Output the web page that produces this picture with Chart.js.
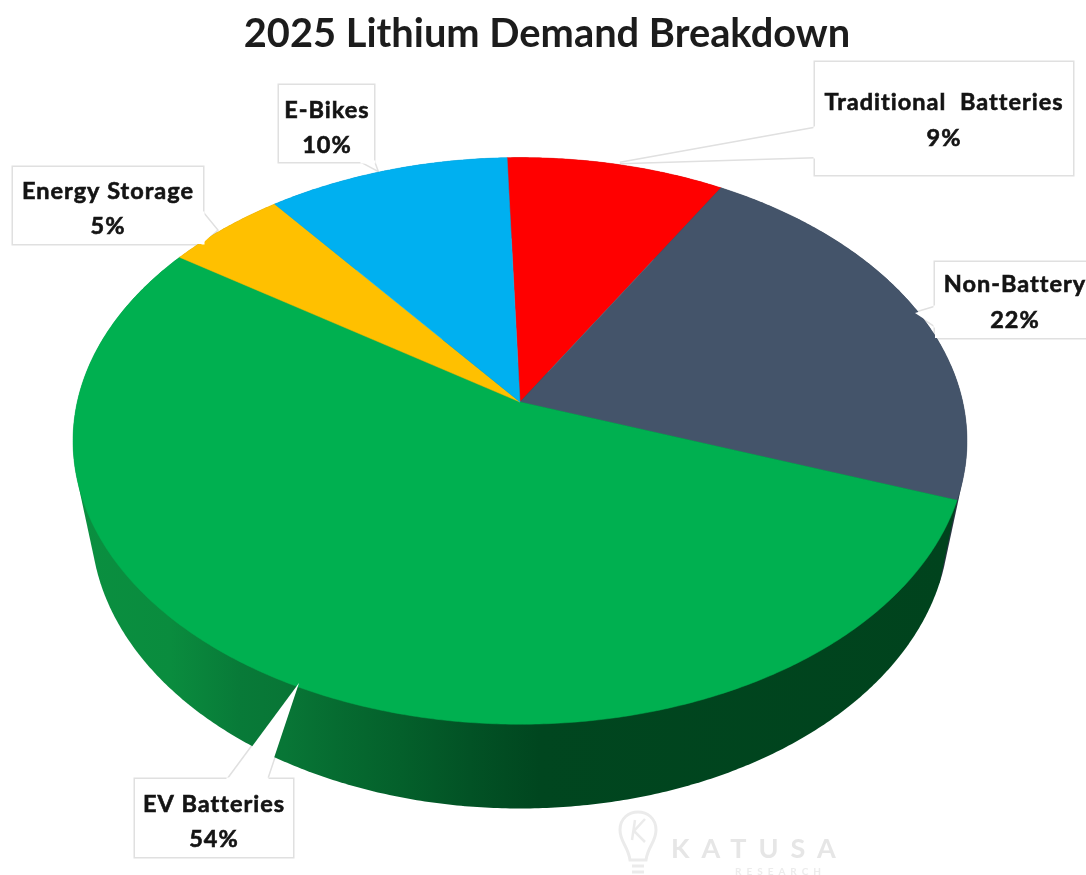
<!DOCTYPE html>
<html><head><meta charset="utf-8">
<script src="https://cdn.jsdelivr.net/npm/chart.js@4/dist/chart.umd.min.js"></script>
<style>
html,body{margin:0;padding:0;background:#fff;overflow:hidden}
#wrap{position:absolute;left:0;top:0;width:1086px;height:875px}
canvas{filter:blur(0.7px)}
</style></head><body>
<div id="wrap"><canvas id="c" width="1086" height="875"></canvas></div>
<script>
const chartTitle = "2025 Lithium Demand Breakdown";
const categories = ["Traditional Batteries","Non-Battery","EV Batteries","Energy Storage","E-Bikes"];
const demandShare = [9,22,54,5,10];
const sliceColors = ["#FF0000","#44546A","#00B050","#FFC000","#00B0F0"];
const sideColors  = ["#8a0000","#2a3442",null,"#a07800","#006f98"];

// callout layout: box, pointer outline, text centre x, first and second text line y
const calloutBoxes = {
  "Traditional Batteries":{box:[815,62,1073,175],ptr:[[815,128],[620,163],[815,157]],tx:944,ty:[102,138]},
  "Non-Battery":{box:[935,262,1100,338],ptr:[[935,307],[915,313],[935,326]],tx:1015,ty:[284,320]},
  "EV Batteries":{box:[135,779,293,857],ptr:[[228,779],[299,683],[267,779]],tx:214,ty:[804,839]},
  "Energy Storage":{box:[13,167,203,244],ptr:[[203,213],[217,230],[203,243]],tx:108,ty:[191,226]},
  "E-Bikes":{box:[279,85,374,162],ptr:[[362,162],[377,170],[374,162]],tx:327,ty:[110,145]}
};

const K = 0.1373;            // foreshortening of the tilted disc
const STRETCH_X = 443.7/278.6;
function project(a, arc, dy, sx, sy){
  const u=Math.cos(a), v=Math.sin(a), d=1-K*v, R=arc.outerRadius;
  return [arc.x + R*STRETCH_X*sx*u/d, arc.y + dy + R*sy*v/d];
}
const TOP=[0,1,1], BOT=[82,0.96,1.007];

function hull(points){
  const p=points.slice().sort((a,b)=>a[0]-b[0]||a[1]-b[1]);
  const cross=(o,a,b)=>(a[0]-o[0])*(b[1]-o[1])-(a[1]-o[1])*(b[0]-o[0]);
  const lo=[],up=[];
  for(const q of p){while(lo.length>1&&cross(lo[lo.length-2],lo[lo.length-1],q)<=0)lo.pop();lo.push(q);}
  for(const q of p.slice().reverse()){while(up.length>1&&cross(up[up.length-2],up[up.length-1],q)<=0)up.pop();up.push(q);}
  return lo.slice(0,-1).concat(up.slice(0,-1));
}
function poly(ctx,pts,close){
  ctx.beginPath();
  pts.forEach((p,k)=>k?ctx.lineTo(p[0],p[1]):ctx.moveTo(p[0],p[1]));
  if(close)ctx.closePath();
}

const pie3d = {
  id:'pie3d',
  beforeDatasetsDraw(chart){
    const ctx=chart.ctx, arcs=chart.getDatasetMeta(0).data;
    ctx.save();
    // callout outlines go under the pie, so they only show on the white page
    ctx.strokeStyle='#e0e0e0';ctx.lineWidth=3;
    categories.forEach(name=>{
      const c=calloutBoxes[name],[x0,y0,x1,y1]=c.box;
      ctx.strokeRect(x0,y0,x1-x0,y1-y0);
      poly(ctx,c.ptr,false);ctx.stroke();
    });
    const g=ctx.createLinearGradient(80,0,950,0);
    const stops=[[80,'#0a8f40'],[170,'#0a8c3e'],[240,'#087a38'],[285,'#087636'],[335,'#066c31'],[400,'#04602b'],[470,'#025225'],[540,'#00461f'],[950,'#00431d']];
    stops.forEach(s=>g.addColorStop((s[0]-80)/870,s[1]));
    arcs.forEach((arc,i)=>{
      const n=Math.max(8,Math.ceil((arc.endAngle-arc.startAngle)*120)),pts=[];
      for(let j=0;j<=n;j++){
        const a=arc.startAngle+(arc.endAngle-arc.startAngle)*j/n;
        pts.push(project(a,arc,...TOP),project(a,arc,...BOT));
      }
      poly(ctx,hull(pts),true);
      ctx.fillStyle=sideColors[i]||g;
      ctx.fill();
    });
    arcs.forEach((arc,i)=>{
      const n=Math.ceil((arc.endAngle-arc.startAngle)*120),pts=[[arc.x,arc.y]];
      for(let j=0;j<=n;j++)pts.push(project(arc.startAngle+(arc.endAngle-arc.startAngle)*j/n,arc,...TOP));
      poly(ctx,pts,true);
      ctx.fillStyle=sliceColors[i];
      ctx.fill();
      ctx.strokeStyle=sliceColors[i];ctx.lineWidth=0.5;ctx.stroke();
    });
    ctx.restore();
    return false;
  },
  afterDraw(chart){
    const ctx=chart.ctx;
    ctx.save();
    // watermark
    ctx.strokeStyle='#ebebeb';ctx.lineWidth=3;
    ctx.beginPath();
    ctx.moveTo(630,860);ctx.bezierCurveTo(628,846,620,842,620,830);
    ctx.bezierCurveTo(620,806,656,806,656,830);
    ctx.bezierCurveTo(656,842,648,846,646,860);ctx.closePath();ctx.stroke();
    ctx.beginPath();ctx.moveTo(632,866);ctx.lineTo(644,866);ctx.moveTo(632,872);ctx.lineTo(644,872);ctx.stroke();
    ctx.beginPath();ctx.lineWidth=2.5;ctx.moveTo(635,820);ctx.lineTo(632,840);ctx.moveTo(645,819);ctx.lineTo(634,831);ctx.lineTo(645,842);ctx.stroke();
    ctx.fillStyle='#e6e6e6';ctx.textAlign='left';ctx.textBaseline='alphabetic';
    ctx.font='bold 27px Lato';ctx.letterSpacing='12px';ctx.fillText('KATUSA',671,858);
    ctx.font='bold 10px Lato';ctx.letterSpacing='5px';ctx.fillStyle='#ececec';ctx.fillText('RESEARCH',735,875);
    ctx.letterSpacing='0px';
    // callouts
    categories.forEach((name,i)=>{
      const c=calloutBoxes[name],[x0,y0,x1,y1]=c.box;
      ctx.fillStyle='#fff';
      poly(ctx,[[x0,y0],[x1,y0],[x1,y1],[x0,y1]],true);ctx.fill();
      poly(ctx,c.ptr,true);ctx.fill();
      const a=c.ptr[0],b=c.ptr[2];
      ctx.fillRect(Math.min(a[0],b[0])-1.5,Math.min(a[1],b[1])-1.5,Math.abs(b[0]-a[0])+3,Math.abs(b[1]-a[1])+3);
      ctx.fillStyle='#141414';ctx.strokeStyle='#141414';ctx.lineWidth=0.6;
      ctx.textAlign='center';ctx.textBaseline='middle';
      ctx.font='bold 23.5px Lato';ctx.letterSpacing='1px';
      ctx.wordSpacing=name==="Traditional Batteries"?'7px':'0px';
      ctx.fillText(name,c.tx,c.ty[0]);ctx.strokeText(name,c.tx,c.ty[0]);
      ctx.wordSpacing='0px';
      const pct=demandShare[i]+'%';
      ctx.fillText(pct,c.tx,c.ty[1]);ctx.strokeText(pct,c.tx,c.ty[1]);
    });
    // title
    ctx.letterSpacing='0px';
    ctx.fillStyle='#1c1c1c';ctx.textAlign='center';ctx.textBaseline='middle';
    ctx.font='bold 39.8px Lato';
    ctx.fillText(chartTitle,547,34);
    ctx.restore();
  }
};

new Chart(document.getElementById('c'),{
  type:'pie',
  data:{labels:categories,datasets:[{data:demandShare,backgroundColor:sliceColors,borderWidth:0}]},
  options:{
    responsive:false,animation:false,rotation:-1.9,
    layout:{padding:{left:242,right:288,top:124,bottom:195}},
    plugins:{legend:{display:false},tooltip:{enabled:false},title:{display:false}}
  },
  plugins:[pie3d]
});
</script>
</body></html>
